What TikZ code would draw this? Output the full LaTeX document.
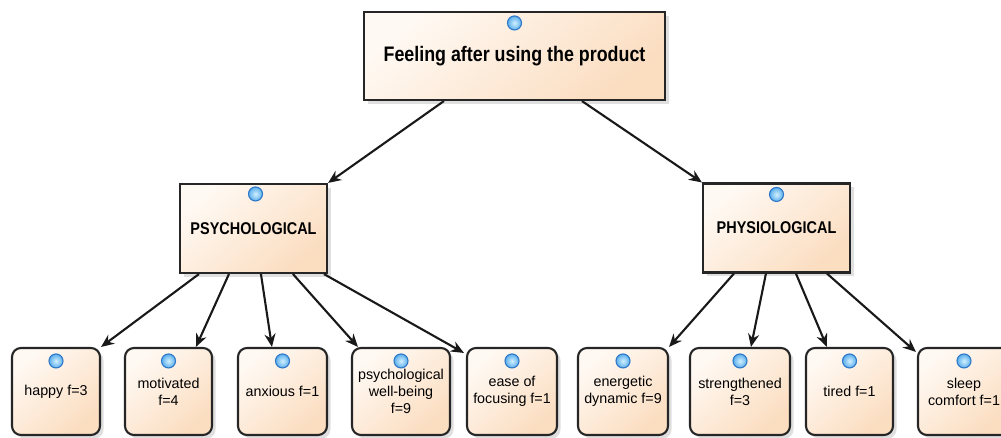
\documentclass[tikz,border=0pt]{standalone}
\usepackage{fontspec}
\setmainfont{Liberation Sans}
\usetikzlibrary{arrows.meta,calc,shadows}
\definecolor{pkl}{HTML}{FFF9F3}
\definecolor{pkd}{HTML}{FBDDC0}
\definecolor{ballin}{HTML}{D2F0FF}
\definecolor{ballout}{HTML}{5AAEEC}
\definecolor{balld}{HTML}{2F78C8}
\tikzset{
  box/.style={draw=black!85, line width=2.1pt, top color=pkl, bottom color=pkd, shading angle=40,
    drop shadow={shadow xshift=3.5pt, shadow yshift=-3.5pt, opacity=0.25, fill=black!50},
    inner sep=0pt, align=center},
  leaf/.style={box, rounded corners=9pt, minimum height=87pt, font=\fontsize{14.3}{17}\selectfont},
  titlebox/.style={box, font=\bfseries\fontsize{21}{24}\selectfont},
  catbox/.style={box, minimum width=147pt, minimum height=89pt, font=\bfseries\fontsize{17}{20}\selectfont},
  ball/.style={circle, minimum size=14pt, inner sep=0pt, inner color=ballin, outer color=ballout, draw=balld, line width=1.1pt},
  conn/.style={line width=2.1pt, draw=black!90, -{Stealth[length=13pt,width=11pt]}},
}
\begin{document}
\begin{tikzpicture}[x=1pt, y=-1pt]
\fill[white] (0,0) rectangle (1001,437);
\useasboundingbox (0,0) rectangle (1001,437);

% top
\node[titlebox, minimum width=301pt, minimum height=88pt] (root) at (514.5,56) {\scalebox{0.85}[1]{Feeling after using the product}};
\node[ball] (rootb) at ($(root.north)+(0,12)$) {};

% categories
\node[catbox] (psy) at (253.5,228.5) {\scalebox{0.85}[1]{PSYCHOLOGICAL}};
\node[ball] (psyb) at ($(psy.north)+(2,11)$) {};
\node[catbox] (phy) at (776.5,228) {\scalebox{0.85}[1]{PHYSIOLOGICAL}};
\node[ball] (phyb) at ($(phy.north)+(0,12)$) {};

% leaves
\node[leaf, minimum width=88pt] (hap) at (56,391.5) {happy f=3};
\node[leaf, minimum width=87pt] (mot) at (168.5,391.5) {motivated\\f=4};
\node[leaf, minimum width=89pt] (anx) at (282.5,391.5) {anxious f=1};
\node[leaf, minimum width=98pt] (pwb) at (401,391.5) {psychological\\well-being\\f=9};
\node[leaf, minimum width=90pt] (eas) at (512,391.5) {ease of\\focusing f=1};
\node[leaf, minimum width=90pt] (ene) at (623,391.5) {energetic\\dynamic f=9};
\node[leaf, minimum width=100pt] (str) at (740,391.5) {strengthened\\f=3};
\node[leaf, minimum width=87pt] (tir) at (849.5,391.5) {tired f=1};
\node[leaf, minimum width=92pt] (sle) at (964,391.5) {sleep\\comfort f=1};

\foreach \n in {hap,mot,anx,pwb,eas,ene,str,tir,sle}{
  \node[ball] (\n b) at ($(\n.north)+(0,14)$) {};
}

% connectors
\draw[conn] ($(root.south west)+(81,0)$) -- (psy.north east);
\draw[conn] ($(root.south west)+(219,0)$) -- (phy.north west);

\draw[conn] ($(psy.south west)+(20,0)$) -- (hap.north east);
\draw[conn] ($(psy.south west)+(50,0)$) -- ($(mot.north west)+(72,0)$);
\draw[conn] ($(psy.south west)+(82,0)$) -- ($(anx.north west)+(35,0)$);
\draw[conn] ($(psy.south west)+(114,0)$) -- ($(pwb.north west)+(7,0)$);
\draw[conn] ($(psy.south west)+(145,0)$) -- ($(eas.north west)+(-2,6)$);

\draw[conn] ($(phy.south west)+(32,0)$) -- (ene.north east);
\draw[conn] ($(phy.south west)+(64,0)$) -- ($(str.north west)+(62,0)$);
\draw[conn] ($(phy.south west)+(94,0)$) -- ($(tir.north west)+(22,0)$);
\draw[conn] ($(phy.south west)+(125,0)$) -- ($(sle.north west)+(-1,5)$);
\end{tikzpicture}
\end{document}
